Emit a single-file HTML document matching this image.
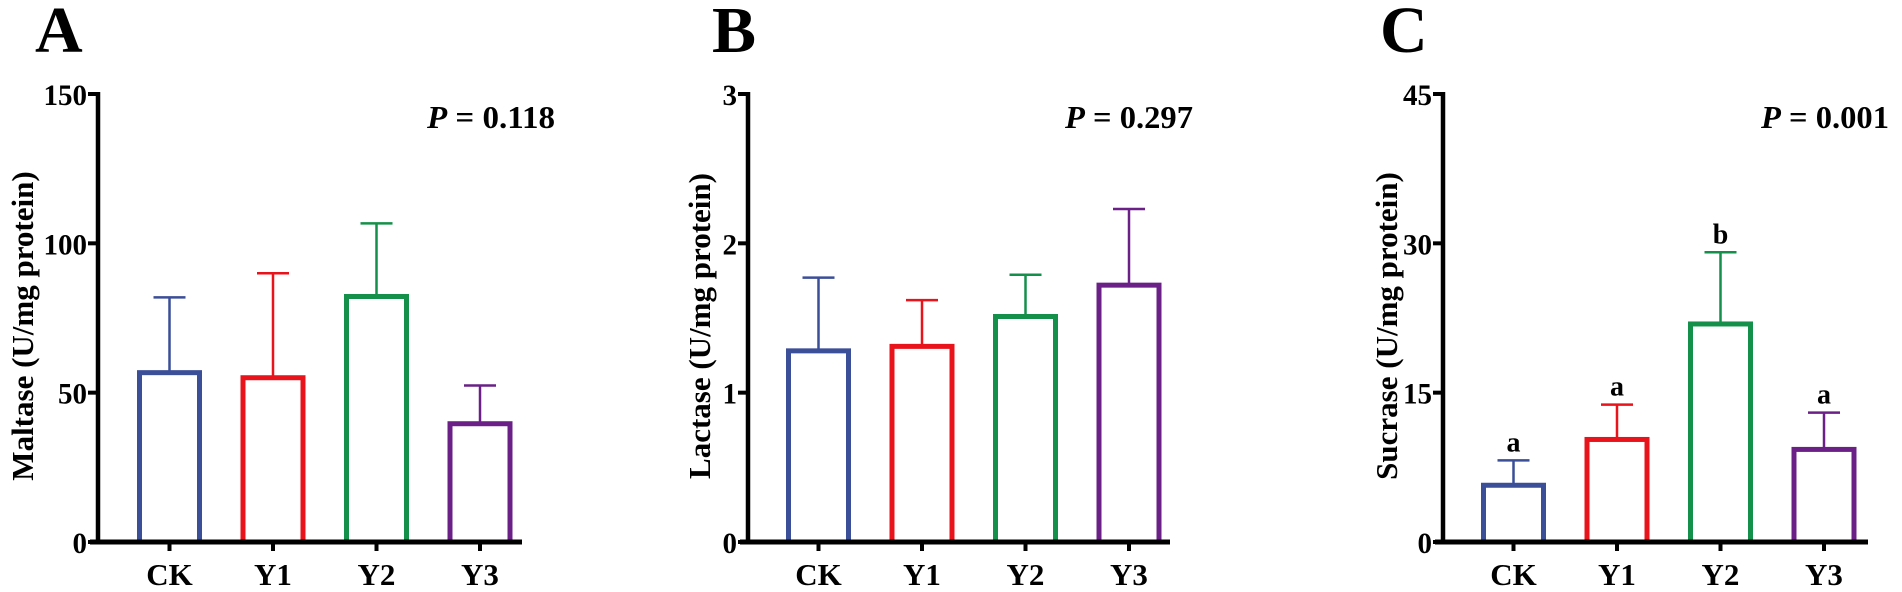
<!DOCTYPE html>
<html><head><meta charset="utf-8">
<style>
html,body{margin:0;padding:0;background:#fff;}
svg{display:block;font-family:"Liberation Serif",serif;font-weight:bold;}
</style></head>
<body>
<svg id="chart" width="1902" height="592" viewBox="0 0 1902 592" xmlns="http://www.w3.org/2000/svg"></svg>
<script>
const categories = ["CK","Y1","Y2","Y3"];
const maltaseMeans = [56.7, 55, 82.2, 39.6];
const maltaseErr = [81.9, 90, 106.7, 52.4];
const lactaseMeans = [1.28, 1.31, 1.51, 1.72];
const lactaseErr = [1.77, 1.62, 1.79, 2.23];
const sucraseMeans = [5.7, 10.3, 21.9, 9.3];
const sucraseErr = [8.2, 13.8, 29.1, 13.0];
const sucraseLetters = ["a","a","b","a"];
const maltaseTicks = [0, 50, 100, 150];
const lactaseTicks = [0, 1, 2, 3];
const sucraseTicks = [0, 15, 30, 45];
const pValues = ["0.118", "0.297", "0.001"];
const colors = ["#3b4e98","#e8131b","#14904a","#6a2087"];

const NS = "http://www.w3.org/2000/svg";
const svg = document.getElementById("chart");
function mk(tag, attrs, parent, text){
  const e = document.createElementNS(NS, tag);
  for (const k in attrs) e.setAttribute(k, attrs[k]);
  if (text !== undefined) e.textContent = text;
  (parent || svg).appendChild(e);
  return e;
}

const panels = [
  {id:"a", letter:"A", letterX:35, axisX:98, axisEnd:522, firstBar:137, title:"Maltase (U/mg protein)", titleX:20,
   means:maltaseMeans, errs:maltaseErr, ticks:maltaseTicks, p:pValues[0], pX:427, letters:null},
  {id:"b", letter:"B", letterX:712, axisX:748, axisEnd:1170, firstBar:786, title:"Lactase (U/mg protein)", titleX:697,
   means:lactaseMeans, errs:lactaseErr, ticks:lactaseTicks, p:pValues[1], pX:1065, letters:null},
  {id:"c", letter:"C", letterX:1380, axisX:1443, axisEnd:1868, firstBar:1481, title:"Sucrase (U/mg protein)", titleX:1384,
   means:sucraseMeans, errs:sucraseErr, ticks:sucraseTicks, p:pValues[2], pX:1761, letters:sucraseLetters}
];

const y0 = 542, yTop = 94;
panels.forEach(pn => {
  const g = mk("g", {});
  
  
  const maxV = pn.ticks[pn.ticks.length-1];
  const yScale = v => y0 - (v / maxV) * (y0 - yTop);
  const step = 103.5, bw = 65;
  const xLeft = i => pn.firstBar + i * step;

  const lt = mk("text", {x: pn.letterX, y: 52, "font-size": 66}, g, pn.letter);
  
  

  const tt = mk("text", {x: 0, y: 0, "font-size": 31, "text-anchor": "middle",
    transform: `translate(${pn.titleX + 13},${(y0 + yTop)/2 + 8}) rotate(-90)`}, g, pn.title);
  
  

  const pt = mk("text", {x: pn.pX, y: 128, "font-size": 32, textLength: 128, lengthAdjust: "spacingAndGlyphs"}, g);
  
  
  mk("tspan", {"font-style": "italic"}, pt, "P");
  mk("tspan", {}, pt, " = " + pn.p);

  pn.means.forEach((m, i) => {
    const x = xLeft(i), c = colors[i];
    const cx = x + bw/2;
    const er = mk("line", {x1: cx, x2: cx, y1: yScale(m), y2: yScale(pn.errs[i]), stroke: c, "stroke-width": 2.5}, g);
    
    
    const cap = mk("line", {x1: cx - 16, x2: cx + 16, y1: yScale(pn.errs[i]), y2: yScale(pn.errs[i]), stroke: c, "stroke-width": 2.5}, g);
    
    
    const r = mk("rect", {x: x + 2.5, y: yScale(m), width: bw - 5, height: y0 - yScale(m), fill: "#fff", stroke: c, "stroke-width": 5}, g);
    
    
    if (pn.letters) {
      const sl = mk("text", {x: cx, y: yScale(pn.errs[i]) - 9, "font-size": 28, "text-anchor": "middle"}, g, pn.letters[i]);
      
      
    }
    const xt = mk("line", {x1: cx, x2: cx, y1: y0, y2: y0 + 9, stroke: "#000", "stroke-width": 4}, g);
    
    
    const xl = mk("text", {x: cx, y: 585, "font-size": 31, "text-anchor": "middle"}, g, categories[i]);
    
    
  });

  const ya = mk("line", {x1: pn.axisX, x2: pn.axisX, y1: yTop - 2, y2: y0 + 2, stroke: "#000", "stroke-width": 4.5}, g);
  
  
  const xa = mk("line", {x1: pn.axisX - 8, x2: pn.axisEnd, y1: y0, y2: y0, stroke: "#000", "stroke-width": 5}, g);
  
  
  pn.ticks.forEach(t => {
    const y = yScale(t);
    const tk = mk("line", {x1: pn.axisX - 10, x2: pn.axisX, y1: y, y2: y, stroke: "#000", "stroke-width": 4}, g);
    
    
    const tl = mk("text", {x: pn.axisX - 11, y: y + 11, "font-size": 30, "text-anchor": "end",
      "textLength": String(t).length * 14.5, "lengthAdjust": "spacingAndGlyphs"}, g, String(t));
    
    
  });
});
</script>
</body></html>
